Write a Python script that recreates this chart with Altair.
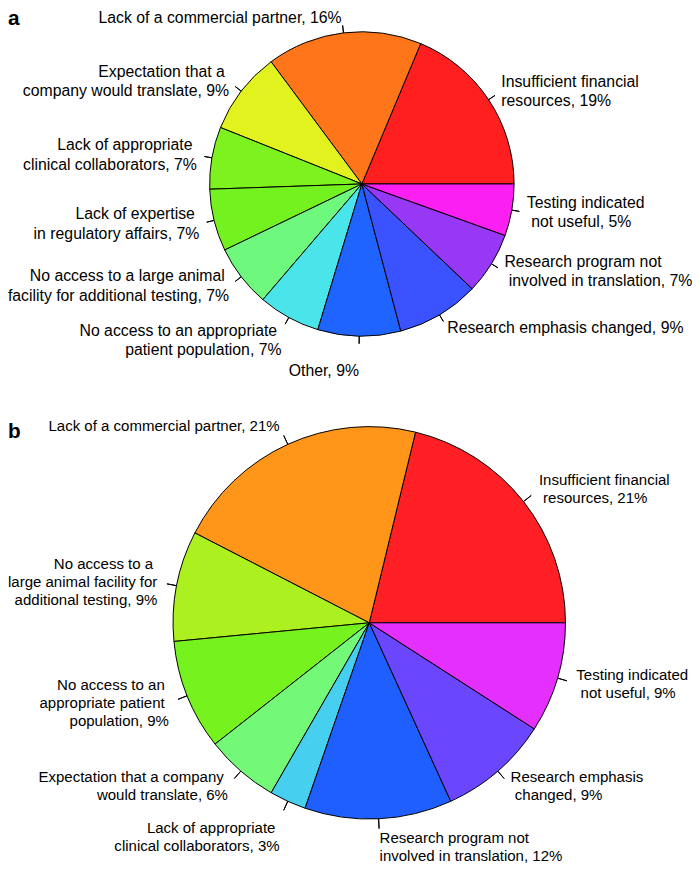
import math
import altair as alt
import pandas as pd

Z = "\u200b"      # zero-width mark: keeps edge spaces from being trimmed
SP = " " + Z      # trailing space kept
LS = Z + " "      # leading space kept

labels_a = [
    "Insufficient financial\nresources, 19%",
    "Lack of a commercial partner, 16%",
    "Expectation that a" + SP + "\ncompany would translate, 9%",
    "Lack of appropriate" + SP + "\nclinical collaborators, 7%",
    "Lack of expertise" + SP + "\nin regulatory affairs, 7%",
    "No access to a large animal" + SP + "\nfacility for additional testing, 7%",
    "\nNo access to an appropriate" + SP + "\npatient population, 7%",
    "\n\nOther, 9%",
    "Research emphasis changed, 9%",
    "Research program not\n" + LS + "involved in translation, 7%",
    "Testing indicated\n" + LS + "not useful, 5%",
]
values_a = [17, 15, 8, 6, 6, 6, 6, 8, 8, 6, 5]
colors_a = ["#FF1F1F", "#FF7519", "#E1F21F", "#7DF21F", "#73F21F", "#6EF87E",
            "#4AE5EA", "#1F64FF", "#3A52FF", "#9638F5", "#FB1FF3"]

# ---- Panel b ----
labels_b = [
    "Insufficient financial\n" + LS + "resources, 21%",
    "Lack of a commercial partner, 21%",
    "No access to a" + SP + "\nlarge animal facility for\nadditional testing, 9%",
    "No access to an" + SP + "\nappropriate patient" + SP + "\npopulation, 9%",
    "Expectation that a company" + SP + "\nwould translate, 6%",
    "\n\nLack of appropriate" + SP + "\nclinical collaborators, 3%",
    "\nResearch program not\ninvolved in translation, 12%",
    "Research emphasis\n" + LS + "changed, 9%",
    "Testing indicated\n" + LS + "not useful, 9%",
]
values_b = [7, 7, 3, 3, 2, 1, 4, 3, 3]
colors_b = ["#FF1F24", "#FF961A", "#ADF020", "#76F21F", "#74F877", "#47CFEF",
            "#1F5FFF", "#6B46FF", "#E52FFF"]

FONT = "Liberation Sans, Arial, Helvetica, sans-serif"


def pie(labels, values, colors, cx, cy, r, fs, lh):
    df = pd.DataFrame({"label": labels, "value": values, "idx": list(range(len(labels)))})
    theta_scale = alt.Scale(domain=[0, sum(values)],
                            range=[math.pi / 2, math.pi / 2 + 2 * math.pi], nice=False)
    base = (
        alt.Chart(df)
        .transform_window(cum="sum(value)", sort=[alt.SortField("idx", order="descending")], frame=[None, 0])
        .transform_joinaggregate(total="sum(value)")
        .transform_calculate(
            start="datum.cum - datum.value",
            mid="datum.cum - datum.value / 2",
            nlines="length(split(datum.label, '\\n'))",
            body="replace(datum.label, regexp('^\\n+'), '')",
        )
        .transform_calculate(
            ang="PI / 2 + 2 * PI * datum.mid / datum.total",
            lead="length(datum.label) - length(datum.body)",
        )
        .transform_calculate(k="2 * datum.lead - (datum.nlines - 1)")
    )
    pos = dict(x=alt.value(cx), y=alt.value(cy))
    arcs = base.mark_arc(radius=r, stroke="black", strokeWidth=1).encode(
        theta=alt.Theta("start:Q", scale=theta_scale, stack=None),
        theta2="cum:Q",
        color=alt.Color("label:N", scale=alt.Scale(domain=labels, range=colors), legend=None),
        **pos,
    )
    ticks = base.mark_arc(radius=1.05 * r, radius2=r, filled=False, stroke="black", strokeWidth=1).encode(
        theta=alt.Theta("mid:Q", scale=theta_scale, stack=None),
        theta2="mid:Q",
        **pos,
    )
    layers = [arcs, ticks]
    for k in range(-3, 4):
        for side, align in (("right", "left"), ("left", "right")):
            cond = "sin(datum.ang) >= 0" if side == "right" else "sin(datum.ang) < 0"
            t = base.transform_calculate(
                txt=f"({cond}) && datum.k == {k} ? datum.body : ''"
            ).mark_text(
                radius=1.1 * r, align=align, baseline="middle", lineBreak="\n",
                fontSize=fs, lineHeight=lh, font=FONT, color="black",
                dy=k * lh / 2,
            ).encode(
                theta=alt.Theta("mid:Q", scale=theta_scale, stack=None),
                text="txt:N",
                **pos,
            )
            layers.append(t)
    return alt.layer(*layers)


pie_a = pie(labels_a, values_a, colors_a, 358, 173, 154, 16.0, 19.5)
pie_b = pie(labels_b, values_b, colors_b, 365.5, 617, 198.5, 15.2, 18.3)

panel_tags = ["a", "b"]
tag_a = alt.Chart(pd.DataFrame({"tag": [panel_tags[0]]})).mark_text(
    align="left", baseline="alphabetic", fontSize=21, fontWeight="bold", font=FONT, color="black"
).encode(text="tag:N", x=alt.value(0), y=alt.value(12))
tag_b = alt.Chart(pd.DataFrame({"tag": [panel_tags[1]]})).mark_text(
    align="left", baseline="alphabetic", fontSize=21, fontWeight="bold", font=FONT, color="black"
).encode(text="tag:N", x=alt.value(0), y=alt.value(430))

chart = (
    alt.layer(pie_a, pie_b, tag_a, tag_b)
    .resolve_scale(theta="independent", color="independent")
    .properties(width=692, height=857, padding=0, autosize="none", background="white")
    .configure_view(stroke=None)
)

chart.save("out.html", embed_options={"renderer": "svg", "actions": False})
